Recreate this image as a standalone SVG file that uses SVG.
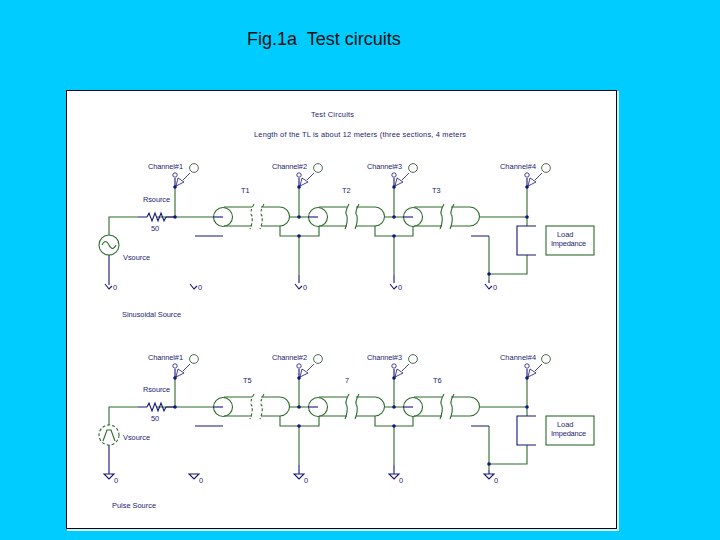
<svg xmlns="http://www.w3.org/2000/svg" width="720" height="540" viewBox="0 0 720 540">
<style>
.w{fill:none;stroke:#2b6b2b;stroke-width:1.1}
.n{fill:none;stroke:#14147a;stroke-width:1.1}
.d{fill:#14147a;stroke:none}
.b{stroke-dasharray:3 2}
.t{font-family:"Liberation Sans",Arial,sans-serif;font-size:7.4px;fill:#1c1c70}
.p{fill:#fff;stroke:#3a5a3a;stroke-width:.9}
.q{fill:none;stroke:#14147a;stroke-width:.8}
</style>
<defs>
<g id="tlA" class="w"><circle r="9.5" cx="0" cy="0"/><path d="M1 -10H29M1 9H29"/><path class="n" d="M-10 0H0"/></g>
<g id="tlB" class="w"><path d="M38 -10H57A9.5 9.5 0 0 1 57 9H38"/></g>
<path id="brk1" class="w b" d="M31 -13Q26 -4 29 -1Q30 5 27 12M41 -13Q36 -4 39 -1Q40 5 37 12"/>
<path id="brk2" class="w" d="M31 -13Q26 -4 29 -1Q30 5 27 12M41 -13Q36 -4 39 -1Q40 5 37 12"/>
<g id="gndT"><path class="n" d="M-4 1L0 6L3 3"/><text class="t" x="4" y="7">0</text></g>
<g id="gndB"><path class="n" d="M-5 0H5L0 5Z"/><text class="t" x="5" y="9">0</text></g>
<g id="probe"><path class="n" d="M0 -9V0"/><circle class="q" cy="-12" r="2.2"/><path class="q" d="M1 -1L3 -9L9 -5Z"/><path class="q" d="M8 -7L15 -14"/><circle class="p" cx="19" cy="-19" r="4.4"/><circle class="d" r="1.8"/></g>
<circle id="dot" class="d" r="1.8"/>
</defs>
<rect width="720" height="540" fill="#00ccff"/>
<text x="247" y="45" style="font-family:'Liberation Sans',Arial,sans-serif;font-size:18px;fill:#111;white-space:pre">Fig.1a  Test circuits</text>
<rect x="67" y="91" width="552" height="440" fill="#cfeef8"/>
<rect x="66.500" y="90.500" width="550" height="438" fill="#fff" stroke="#0a0a0a"/>

<g id="connectors">
<path class="w" d="M109 235V217H138M157 217H213M175 217V187M289 217H309M299 217V187M299 236V275M385 217H404M394 217V187M394 236V275M480 217H527V187M527 217V226M527 255V274H489V236M489 274V280M280 226V236H319V226M375 226V236H413V226"/>
<path class="n" d="M138 217H147M166 217H175M195 236H223M109 255V285M299 275V283M394 275V283M489 280V283M471 236H489"/>
<path class="w" d="M109 425V407H138M157 407H213M175 407V378M289 407H309M299 407V378M299 426V465M385 407H404M394 407V378M394 426V465M480 407H527V378M527 407V416M527 445V464H489V426M489 464V470M280 416V426H319V416M375 416V426H413V416"/>
<path class="n" d="M138 407H147M166 407H175M195 426H223M109 445V474M299 465V474M394 465V474M489 470V474M471 426H489"/>
</g>

<g id="title1"><text class="t" x="311" y="117" textLength="43">Test Circuits</text><text class="t" x="254" y="137" textLength="212">Length of the TL is about 12 meters (three sections, 4 meters</text></g>
<g id="label-sin"><text class="t" x="122" y="317" textLength="59">Sinusoidal Source</text></g>
<g id="label-pulse"><text class="t" x="112" y="508" textLength="44">Pulse Source</text></g>

<g id="Rsource1"><path class="n" d="M147 217L149 213L152 221L155 213L158 221L161 213L164 221L166 217"/><text class="t" x="143" y="202" textLength="27">Rsource</text><text class="t" x="151" y="231">50</text></g>
<g id="Vsource1"><circle class="w" cx="109" cy="245" r="10"/><path class="w" d="M102 245Q105.500 238 109 245T116 245"/><text class="t" x="123" y="260" textLength="27">Vsource</text></g>
<g id="ch1"><use href="#probe" x="175" y="187"/><text class="t" x="148" y="169" textLength="35">Channel#1</text></g>
<g id="ch2"><use href="#probe" x="299" y="187"/><text class="t" x="272" y="169" textLength="35">Channel#2</text></g>
<g id="ch3"><use href="#probe" x="394" y="187"/><text class="t" x="367" y="169" textLength="35">Channel#3</text></g>
<g id="ch4"><use href="#probe" x="527" y="187"/><text class="t" x="500" y="169" textLength="36">Channel#4</text></g>
<g id="T1"><use href="#tlA" x="223" y="217"/><use href="#brk1" x="223" y="217"/><use href="#tlB" x="223" y="217"/><text class="t" x="241" y="193">T1</text></g>
<g id="T2"><use href="#tlA" x="318" y="217"/><use href="#brk2" x="318" y="217"/><use href="#tlB" x="318" y="217"/><text class="t" x="342" y="193">T2</text></g>
<g id="T3"><use href="#tlA" x="413" y="217"/><use href="#brk2" x="413" y="217"/><use href="#tlB" x="413" y="217"/><text class="t" x="432" y="193">T3</text></g>
<g id="load1"><path class="n" d="M536 226H517V255H536"/><rect class="w" x="546" y="226" width="48" height="29"/><text class="t" x="557" y="237">Load</text><text class="t" x="551" y="246" textLength="35">Impedance</text></g>
<g id="nodes1"><use href="#dot" x="175" y="217"/><use href="#dot" x="299" y="217"/><use href="#dot" x="299" y="236"/><use href="#dot" x="394" y="217"/><use href="#dot" x="394" y="236"/><use href="#dot" x="527" y="217"/><use href="#dot" x="489" y="274"/></g>
<g id="gnd1"><use href="#gndT" x="109" y="283"/><use href="#gndT" x="194" y="283"/><use href="#gndT" x="299" y="283"/><use href="#gndT" x="394" y="283"/><use href="#gndT" x="489" y="283"/></g>

<g id="Rsource2"><path class="n" d="M147 407L149 403L152 411L155 403L158 411L161 403L164 411L166 407"/><text class="t" x="143" y="392" textLength="27">Rsource</text><text class="t" x="151" y="421">50</text></g>
<g id="Vsource2"><circle class="w b" cx="109" cy="435" r="10"/><path class="w" d="M103 441L107 430H111L115 441"/><text class="t" x="123" y="440" textLength="27">Vsource</text></g>
<g id="ch5"><use href="#probe" x="175" y="378"/><text class="t" x="148" y="360" textLength="35">Channel#1</text></g>
<g id="ch6"><use href="#probe" x="299" y="378"/><text class="t" x="272" y="360" textLength="35">Channel#2</text></g>
<g id="ch7"><use href="#probe" x="394" y="378"/><text class="t" x="367" y="360" textLength="35">Channel#3</text></g>
<g id="ch8"><use href="#probe" x="527" y="378"/><text class="t" x="500" y="360" textLength="36">Channel#4</text></g>
<g id="T5"><use href="#tlA" x="223" y="407"/><use href="#brk1" x="223" y="407"/><use href="#tlB" x="223" y="407"/><text class="t" x="243" y="383">T5</text></g>
<g id="T4"><use href="#tlA" x="318" y="407"/><use href="#brk2" x="318" y="407"/><use href="#tlB" x="318" y="407"/><text class="t" x="345" y="383">7</text></g>
<g id="T6"><use href="#tlA" x="413" y="407"/><use href="#brk2" x="413" y="407"/><use href="#tlB" x="413" y="407"/><text class="t" x="433" y="383">T6</text></g>
<g id="load2"><path class="n" d="M536 416H517V445H536"/><rect class="w" x="546" y="416" width="48" height="29"/><text class="t" x="557" y="427">Load</text><text class="t" x="551" y="436" textLength="35">Impedance</text></g>
<g id="nodes2"><use href="#dot" x="175" y="407"/><use href="#dot" x="299" y="407"/><use href="#dot" x="299" y="426"/><use href="#dot" x="394" y="407"/><use href="#dot" x="394" y="426"/><use href="#dot" x="527" y="407"/><use href="#dot" x="489" y="464"/></g>
<g id="gnd2"><use href="#gndB" x="109" y="474"/><use href="#gndB" x="194" y="474"/><use href="#gndB" x="299" y="474"/><use href="#gndB" x="394" y="474"/><use href="#gndB" x="489" y="474"/></g>
</svg>
